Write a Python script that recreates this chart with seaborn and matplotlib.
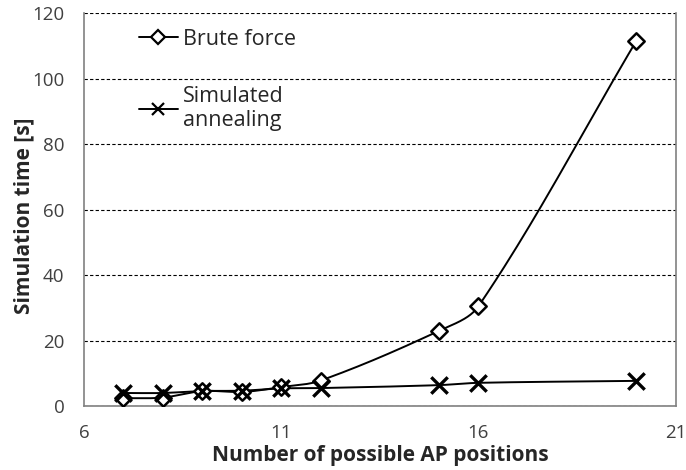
import numpy as np
import pandas as pd
import seaborn as sns
import matplotlib
matplotlib.use("Agg")
import matplotlib.pyplot as plt
from matplotlib.lines import Line2D

positions = [7, 8, 9, 10, 11, 12, 15, 16, 20]
brute_force = [2.4, 2.6, 4.6, 4.3, 5.8, 7.8, 23.0, 30.5, 111.5]
sim_annealing = [4.0, 4.0, 4.6, 4.7, 5.4, 5.5, 6.4, 7.1, 7.7]
x_ticks = [6, 11, 16, 21]
y_ticks = [0, 20, 40, 60, 80, 100, 120]

bf = pd.DataFrame({"n": positions, "t": brute_force})
sa = pd.DataFrame({"n": positions, "t": sim_annealing})


def smooth(x, y, steps=40):
    # bezier smoothing like Excel's "smoothed line", tangents scaled by chord length
    p = np.column_stack([np.asarray(x, float) / 15.0, np.asarray(y, float) / 120.0 * 0.66])
    scale = np.array([15.0, 120.0 / 0.66])
    n = len(p)
    d = np.linalg.norm(np.diff(p, axis=0), axis=1)
    tang = np.zeros_like(p)
    for i in range(n):
        a = p[max(i - 1, 0)]
        b = p[min(i + 1, n - 1)]
        tang[i] = (b - a) / np.linalg.norm(b - a)
    out = []
    t = np.linspace(0, 1, steps)[:, None]
    for i in range(n - 1):
        c1 = p[i] + tang[i] * d[i] / 3
        c2 = p[i + 1] - tang[i + 1] * d[i] / 3
        seg = ((1 - t) ** 3 * p[i] + 3 * (1 - t) ** 2 * t * c1
               + 3 * (1 - t) * t ** 2 * c2 + t ** 3 * p[i + 1])
        out.append(seg)
    out = np.vstack(out) * scale
    return out[:, 0], out[:, 1]


sns.set_style("white")
plt.rcParams["font.family"] = ["Open Sans", "DejaVu Sans"]

fig = plt.figure(figsize=(6.86, 4.70), dpi=100)
ax = fig.add_axes([0.1224, 0.136, 0.8626, 0.836])

for d in (bf, sa):
    sx, sy = smooth(d["n"], d["t"])
    ax.plot(sx, sy, color="black", lw=1.4, zorder=2)

sns.scatterplot(data=bf, x="n", y="t", marker="D", s=70, facecolor="white",
                edgecolor="black", linewidth=1.8, zorder=4, ax=ax)
sns.scatterplot(data=sa, x="n", y="t", marker="x", s=140, color="black",
                linewidth=2.4, zorder=4, ax=ax)

ax.set_xlim(6, 21)
ax.set_ylim(0, 120)
ax.set_xticks(x_ticks)
ax.set_yticks(y_ticks)
ax.yaxis.grid(True, linestyle=(0, (3, 2)), color="black", lw=0.8)
ax.set_axisbelow(True)
ax.tick_params(length=0, labelsize=13.5, labelcolor="#404040")
ax.tick_params(axis="x", pad=13)
ax.tick_params(axis="y", pad=14)
for s in ["left", "bottom", "right"]:
    ax.spines[s].set_color("#808080")
    ax.spines[s].set_linewidth(1.2)
ax.spines["top"].set_visible(False)

ax.set_xlabel("Number of possible AP positions", fontsize=15, fontweight="bold", labelpad=2)
ax.set_ylabel("Simulation time [s]", fontsize=15, fontweight="bold")
ax.yaxis.set_label_coords(-0.083, 0.485)

handles = [
    Line2D([], [], color="black", lw=1.4, marker="D", markersize=7,
           markerfacecolor="white", markeredgewidth=1.6),
    Line2D([], [], color="black", lw=1.4, marker="x", markersize=9,
           markeredgewidth=1.6),
]
ax.legend(handles, ["Brute force", "Simulated\nannealing"], loc="upper left",
          bbox_to_anchor=(0.06, 1.01), frameon=False, fontsize=15.5,
          labelspacing=1.7, handlelength=1.8, handletextpad=0.25)

fig.savefig("out.png", dpi=100)
